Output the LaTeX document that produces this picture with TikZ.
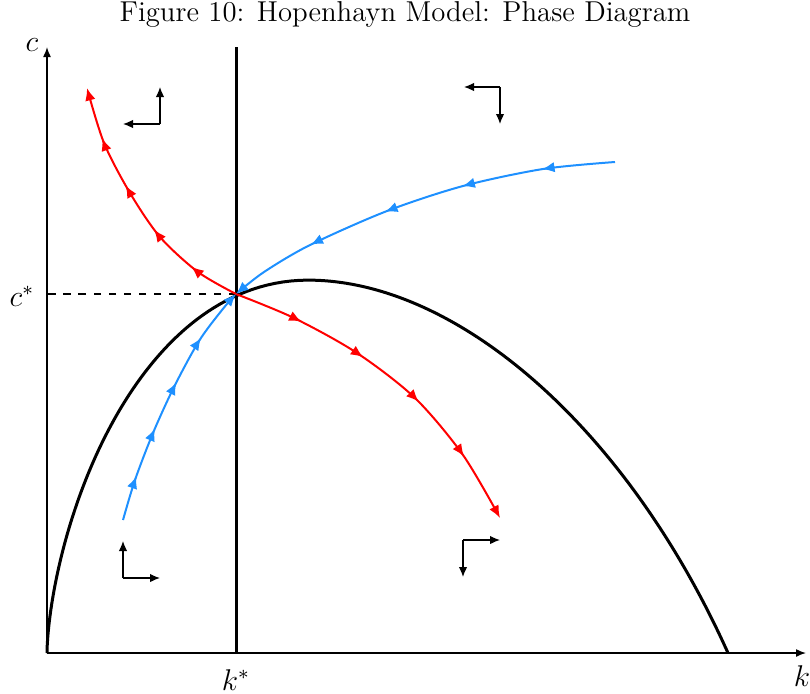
\documentclass[tikz,border=0pt]{standalone}
\usepackage{amsmath}
\usetikzlibrary{arrows.meta,decorations.markings}
\definecolor{saddlered}{RGB}{255,0,0}
\definecolor{saddleblue}{RGB}{30,144,255}

\begin{document}
\begin{tikzpicture}[x=0.4pt, y=-0.4pt, >={Latex[length=5pt,width=4.2pt]},
  axis/.style={line width=0.6pt, -{Latex[length=4pt,width=3.2pt]}},
  locus/.style={line width=1.2pt},
  dirarr/.style={line width=0.5pt, -{Latex[length=4pt,width=3.4pt]}},
  unstable/.style={saddlered, line width=0.8pt, ->, postaction={decorate},
    decoration={markings, mark=between positions 0.2 and 0.8 step 0.2 with {\arrow{>}}}},
  stable/.style={saddleblue, line width=0.8pt, ->, postaction={decorate},
    decoration={markings, mark=between positions 0.18 and 0.8 step 0.2 with {\arrow{>}}}},
  lbl/.style={font=\large}]
\useasboundingbox (0,0) rectangle (810,693);
\node[font=\fontsize{11.5pt}{14pt}\selectfont] (title) at (405,14) {Figure 10: Hopenhayn Model: Phase Diagram};
\coordinate (O) at (47,653);
\coordinate (ss) at (236,294);
\coordinate (ytop) at (47,47);
\coordinate (xend) at (806,653);
% axes and loci
\draw[axis] (O) -- (ytop);
\draw[axis] (O) -- (xend);
\draw[locus] (236,47) -- (236,653);
\draw[dashed, line width=0.5pt] (ss) -- (ss-|O);
\draw[locus] (O) -- plot[domain=0.3:0.8874, samples=160, variable=\s]
  ({47+680*\s^8}, {653-1101*\s^5*(1-\s^8)})
  .. controls (454,280) and (624.5,423) .. (728,653);
% saddle path
\draw[unstable] plot[smooth] coordinates {(ss) (198,272) (160,237) (130,193) (104,143) (87,88)};
\draw[unstable] plot[smooth] coordinates {(ss) (294,318) (357,353) (415,398) (463,455) (500,518)};
\draw[stable] plot[smooth] coordinates {(123,520) (135,480) (153,433) (174,387) (199,341) (222,310) (ss)};
\draw[stable] plot[smooth] coordinates {(615,162) (543,169) (463,186) (387,211) (310,245) (264,272) (ss)};
% direction of motion
\coordinate (nw) at (160,124);
\coordinate (ne) at (500,87);
\coordinate (sw) at (123,578);
\coordinate (se) at (463,540);
\draw[dirarr] (nw) -- ++(0,-37);
\draw[dirarr] (nw) -- ++(-37,0);
\draw[dirarr] (ne) -- ++(-36,0);
\draw[dirarr] (ne) -- ++(0,37);
\draw[dirarr] (sw) -- ++(0,-37);
\draw[dirarr] (sw) -- ++(37,0);
\draw[dirarr] (se) -- ++(37,0);
\draw[dirarr] (se) -- ++(0,37);
% labels
\node[lbl] (clab) at (32,45) {$c$};
\node[lbl] (klab) at (802,676) {$k$};
\node[lbl] (cstar) at (22,296) {$c^*$};
\node[lbl] (kstar) at (236,680) {$k^*$};
\end{tikzpicture}
\end{document}
